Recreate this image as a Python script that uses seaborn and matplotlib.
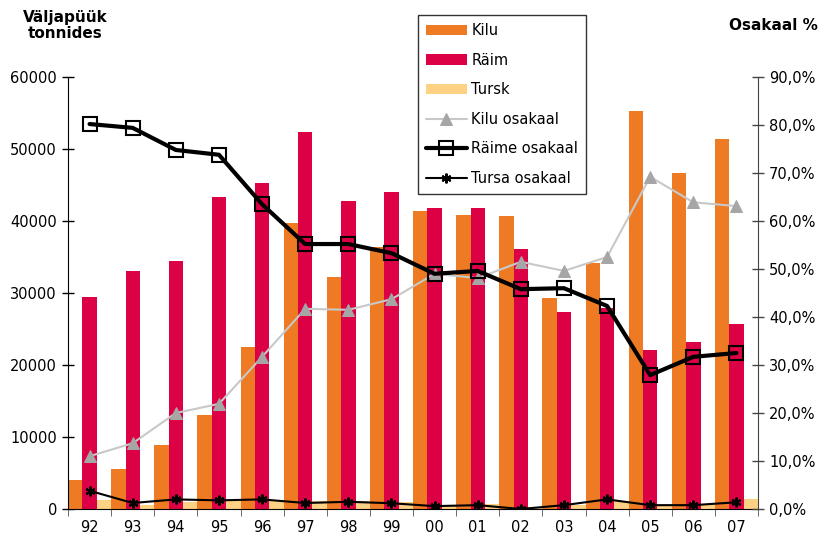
import pandas as pd
import seaborn as sns
import matplotlib.pyplot as plt
from matplotlib.ticker import FuncFormatter, FixedLocator

# ============================================================
# Data: catch in tonnes (bars) and share in % (lines)
# ============================================================

years = ["92", "93", "94", "95", "96", "97", "98", "99",
         "00", "01", "02", "03", "04", "05", "06", "07"]

kilu = [4000, 5500, 8900, 13000, 22500, 39700, 32200, 36400,
        41400, 40800, 40700, 29300, 34200, 55300, 46700, 51400]
raim = [29400, 33000, 34400, 43300, 45300, 52400, 42800, 44000,
        41800, 41800, 36100, 27400, 27900, 22100, 23200, 25700]
tursk = [1250, 600, 1000, 1100, 1250, 1100, 1100, 1000,
         400, 700, 300, 550, 1100, 450, 600, 1400]

kilu_pct = [11.0, 13.7, 20.0, 21.9, 31.7, 41.7, 41.5, 43.7,
            49.0, 48.1, 51.5, 49.6, 52.5, 69.2, 63.9, 63.1]
raim_pct = [80.2, 79.4, 74.8, 73.8, 63.5, 55.2, 55.2, 53.3,
            49.0, 49.6, 45.8, 46.0, 42.3, 27.9, 31.7, 32.5]
tursk_pct = [3.8, 1.25, 2.0, 1.8, 2.0, 1.25, 1.5, 1.2,
             0.6, 0.8, 0.0, 0.8, 2.0, 0.8, 0.8, 1.4]

# ============================================================
# Long table for the grouped bars
# ============================================================

bars = pd.DataFrame({"year": years, "Kilu": kilu, "Räim": raim, "Tursk": tursk})
bars = bars.melt(id_vars="year", var_name="liik", value_name="tonnid")

sns.set_style("white")
plt.rcParams["font.family"] = ["DejaVu Sans"]
plt.rcParams["text.color"] = "black"
plt.rcParams["xtick.color"] = "black"
plt.rcParams["ytick.color"] = "black"

fig = plt.figure(figsize=(8.22, 5.42), dpi=100)
ax = fig.add_axes([68 / 822, 1 - 509 / 542, 690 / 822, 432 / 542])

sns.barplot(
    data=bars, x="year", y="tonnid", hue="liik", order=years,
    hue_order=["Kilu", "Räim", "Tursk"],
    palette=["#EE7A23", "#DC0045", "#FED284"],
    width=1.0, saturation=1, linewidth=0, ax=ax
)
bar_handles, bar_labels = ax.get_legend_handles_labels()
ax.get_legend().remove()

ax.set_xlim(-0.5, len(years) - 0.5)
ax.set_ylim(0, 60000)
ax.set_yticks(range(0, 60001, 10000))
ax.set_xlabel("")
ax.set_ylabel("")
ax.tick_params(axis="y", direction="inout", length=9, width=1, labelsize=10.5, left=True)
ax.tick_params(axis="x", which="major", length=0, labelsize=10.5, pad=8)
ax.xaxis.set_minor_locator(FixedLocator([i + 0.5 for i in range(-1, len(years))]))
ax.tick_params(axis="x", which="minor", direction="inout", length=10, color="#555555", bottom=True)

for side in ["top", "right"]:
    ax.spines[side].set_visible(False)
ax.spines["left"].set_color("black")
ax.spines["bottom"].set_color("black")

# ============================================================
# Share lines on the right axis
# ============================================================

ax2 = ax.twinx()
pos = list(range(len(years)))

sns.lineplot(x=pos, y=kilu_pct, color="#C8C8C8", linewidth=1.5, marker="^",
             markersize=8.5, markerfacecolor="#A6A6A6", markeredgecolor="#A6A6A6",
             label="Kilu osakaal", ax=ax2)
sns.lineplot(x=pos, y=raim_pct, color="black", linewidth=3, marker="s",
             markersize=9.5, markerfacecolor="none", markeredgecolor="black",
             markeredgewidth=1.5, label="Räime osakaal", ax=ax2)
sns.lineplot(x=pos, y=tursk_pct, color="black", linewidth=1.5, marker=(6, 2, 0),
             markersize=7, markeredgewidth=1.5, markeredgecolor="black",
             label="Tursa osakaal", ax=ax2)
line_handles, line_labels = ax2.get_legend_handles_labels()
ax2.get_legend().remove()

ax2.set_ylim(0, 90)
ax2.set_yticks(range(0, 91, 10))
ax2.yaxis.set_major_formatter(FuncFormatter(lambda v, p: f"{v:.1f}%".replace(".", ",")))
ax2.tick_params(axis="y", direction="inout", length=9, width=1, labelsize=10.5,
                right=True, color="#444444")
ax2.set_xlim(-0.5, len(years) - 0.5)
for side in ["top", "left"]:
    ax2.spines[side].set_visible(False)
ax2.spines["right"].set_color("#444444")
ax2.spines["bottom"].set_visible(False)

# ============================================================
# Legend and axis titles
# ============================================================

leg = fig.legend(
    bar_handles + line_handles, bar_labels + line_labels,
    loc="upper left", bbox_to_anchor=(418 / 822, 1 - 15 / 542), borderaxespad=0,
    frameon=True, fancybox=False, edgecolor="black", fontsize=10.5,
    handlelength=2.8, handletextpad=0.3, labelspacing=1.0, borderpad=0.55
)
leg.get_frame().set_linewidth(1)

fig.text(65 / 822, 1 - 10 / 542, "Väljapüük\ntonnides", ha="center", va="top",
         fontsize=11, fontweight="bold", linespacing=1.1)
fig.text(818 / 822, 1 - 18 / 542, "Osakaal %", ha="right", va="top",
         fontsize=11, fontweight="bold")

fig.savefig("out.png", dpi=100)
